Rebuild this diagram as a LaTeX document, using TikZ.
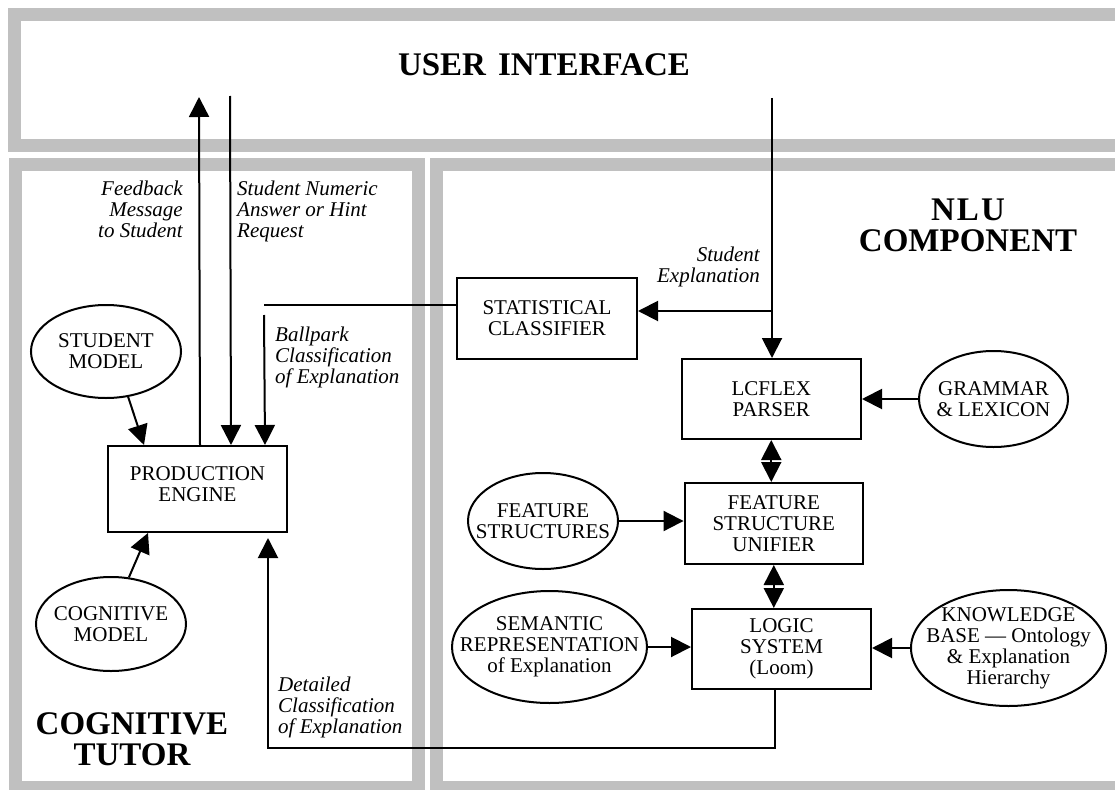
\documentclass[tikz,border=0pt]{standalone}
\usepackage{fontspec}
\setmainfont{Liberation Serif}
\usetikzlibrary{arrows.meta,shapes.geometric}
\definecolor{framegray}{HTML}{C0C0C0}
\tikzset{
  frame/.style={draw=framegray,line width=13pt},
  box/.style={draw,line width=2pt,rectangle,align=center,inner sep=0pt,
    font=\fontsize{21}{21}\selectfont},
  oval/.style={draw,line width=2pt,ellipse,inner sep=0pt},
  ovaltext/.style={align=center,inner sep=0pt,font=\fontsize{21}{21}\selectfont},
  note/.style={inner sep=0pt,font=\fontsize{21}{21}\selectfont\itshape},
  heading/.style={inner sep=0pt,align=center,font=\fontsize{33}{31}\selectfont\bfseries},
  wire/.style={line width=2pt},
  arr/.style={line width=2pt,-{Triangle[length=20pt,width=20pt]}},
  darr/.style={line width=2pt,{Triangle[length=20pt,width=20pt]}-{Triangle[length=20pt,width=20pt]}},
}
\begin{document}
\begin{tikzpicture}[x=1pt,y=-1pt]
\useasboundingbox (0,0) rectangle (1115,789);
\clip (0,0) rectangle (1115,789);

% component frames
\draw[frame] (14.75,14.5) rectangle (1140,145);
\draw[frame] (15,164) rectangle (418,787);
\draw[frame] (436,164) rectangle (1140,787);

% headings
\node[heading,anchor=base] (uititle) at (544,76) {USER\hspace{12pt}INTERFACE};
\node[heading,anchor=north] (ctitle) at (132,712) {COGNITIVE\\TUTOR};
\node[heading,anchor=north] (ntitle) at (968,199) {N\kern2pt L\kern2pt U\\COMPONENT};

% cognitive tutor side
\node[box,minimum width=179pt,minimum height=86pt,text depth=10pt] (prod) at (197.5,489) {PRODUCTION\\ENGINE};
\node[oval,minimum width=150pt,minimum height=93pt] (sm) at (106,351.5) {};
\node[ovaltext] (smt) at (sm.center) {STUDENT\\MODEL};
\node[oval,minimum width=150pt,minimum height=94pt] (cm) at (111,624) {};
\node[ovaltext] (cmt) at (cm.center) {COGNITIVE\\MODEL};

% NLU side
\node[box,minimum width=180pt,minimum height=81pt] (stat) at (547,318.5) {STATISTICAL\\CLASSIFIER};
\node[box,minimum width=179.5pt,minimum height=80pt] (lcflex) at (771.25,399) {LCFLEX\\PARSER};
\node[box,minimum width=178.5pt,minimum height=81pt] (fsu) at (773.8,523.5) {FEATURE\\STRUCTURE\\UNIFIER};
\node[box,minimum width=179pt,minimum height=80pt] (logic) at (781.5,649) {LOGIC\\SYSTEM\\(Loom)};

\node[oval,minimum width=149pt,minimum height=96pt] (gram) at (993.5,399) {};
\node[ovaltext] (gramt) at (gram.center) {GRAMMAR\\\& LEXICON};
\node[oval,minimum width=150pt,minimum height=96pt] (fs) at (543,521) {};
\node[ovaltext] (fst) at (fs.center) {FEATURE\\STRUCTURES};
\node[oval,minimum width=195pt,minimum height=112pt] (sem) at (549.5,647) {};
\node[ovaltext] (semt) at (sem.center) {SEMANTIC\\REPRESENTATION\\of Explanation};
\node[oval,minimum width=195pt,minimum height=116pt] (kb) at (1008.5,648) {};
\node[ovaltext] (kbt) at (kb.center) {KNOWLEDGE\\BASE --- Ontology\\\& Explanation\\Hierarchy};

% free ends inside the user interface
\coordinate (fbend) at (199,97);
\coordinate (numstart) at (230,96);
\coordinate (expstart) at (772,98);
\coordinate (split) at (772,311);
\coordinate (bpk) at (264,305);
\coordinate (bpkdown) at (264,315);

% connectors
\draw[arr] ([xshift=-88pt]prod.north east) -- (fbend);
\draw[arr] (numstart) -- ([xshift=-57pt]prod.north east);
\draw[wire] (stat.west |- bpk) -- (bpk);
\draw[arr] (bpkdown) -- ([xshift=-23pt]prod.north east);
\draw[arr] (sm.-64) -- ([xshift=37pt]prod.north west);
\draw[arr] (cm.69) -- ([xshift=41pt]prod.south west);
\draw[arr] (expstart) -- (expstart |- lcflex.north);
\draw[arr] (split) -- (split -| stat.east);
\draw[arr] (gram) -- (lcflex);
\draw[darr] (lcflex.south) -- (lcflex.south |- fsu.north);
\draw[darr] (fsu.south) -- (fsu.south |- logic.north);
\draw[arr] (fs.east) -- (fs.east -| fsu.west);
\draw[arr] (sem.east) -- (sem.east -| logic.west);
\draw[arr] (kb.west) -- (kb.west -| logic.east);
\draw[arr] ([xshift=-6.5pt]logic.south) -- ++(0,58) -| ([xshift=-20pt,yshift=-5pt]prod.south east);

% connector labels
\node[note,anchor=north east,align=right] (fbl) at (183,181) {Feedback\\Message\\to Student};
\node[note,anchor=north west,align=left] (numl) at (237,181) {Student Numeric\\Answer or Hint\\Request};
\node[note,anchor=north west,align=left] (bpkl) at (275,327) {Ballpark\\Classification\\of Explanation};
\node[note,anchor=north east,align=right] (expl) at (760,247) {Student\\Explanation};
\node[note,anchor=north west,align=left] (detl) at (278,677) {Detailed\\Classification\\of Explanation};
\end{tikzpicture}
\end{document}
